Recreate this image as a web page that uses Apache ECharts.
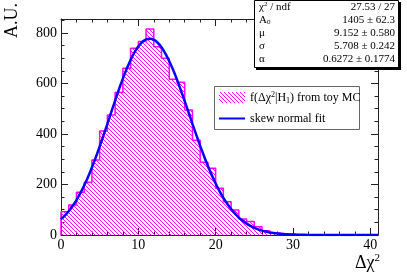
<!DOCTYPE html>
<html><head><meta charset="utf-8">
<script src="https://cdn.jsdelivr.net/npm/echarts@6/dist/echarts.min.js"></script>
<style>html,body{margin:0;padding:0;background:#fff}#c{width:407px;height:276px}</style>
</head><body><div id="c"></div>
<script>
// Histogram: bin width 1, bins starting at 0
const binStart = 0;
const binWidth = 1;
const histValues = [92, 119, 169, 209, 297, 412, 475, 564, 660, 739, 766, 815, 745, 700, 617, 605, 495, 375, 288, 264, 185, 132, 99, 63, 53, 33, 17, 9, 5, 3, 1, 1];
// Fit curve read every 0.5 in x
const fitX = [0,0.5,1,1.5,2,2.5,3,3.5,4,4.5,5,5.5,6,6.5,7,7.5,8,8.5,9,9.5,10,10.5,11,11.5,12,12.5,13,13.5,14,14.5,15,15.5,16,16.5,17,17.5,18,18.5,19,19.5,20,20.5,21,21.5,22,22.5,23,23.5,24,24.5,25,25.5,26,26.5,27,27.5,28,28.5,29,29.5,30,30.5,31,32,33,34,35,36,38,41];
const fitY = [63,77,94,115,138,166,196,230,267,307,350,394,440,486,532,577,619,658,693,723,746,764,774,777,773,761,743,718,688,654,615,573,530,485,440,396,353,312,273,237,204,174,147,124,103,85,69,56,45,36,28.5,22.4,17.4,13.5,10.3,7.8,5.9,4.4,3.3,2.4,1.8,1.3,0.9,0.4,0.2,0.1,0,0,0,0];
const xTicks = [0,10,20,30,40];
const yTicks = [0,200,400,600,800];
const statNames = ['chi2ndf','A0','mu','sigma','alpha'];
const statValues = ['27.53 / 27','1405 \u00b1 62.3','9.152 \u00b1 0.580','5.708 \u00b1 0.242','0.6272 \u00b1 0.1774'];

const MAG = '#ff00ff';
const FONT = '"Liberation Serif", "DejaVu Serif", serif';

function hatch(n){
  const c = document.createElement('canvas');
  c.width = n; c.height = n;
  const ctx = c.getContext('2d');
  ctx.fillStyle = MAG;
  for (let i=0;i<n;i++) ctx.fillRect(i,i,1,1);
  return c;
}
const pattern = {image: hatch(4), repeat: 'repeat'};

const histPts = [[binStart,0]];
histValues.forEach((v,k)=>{
  const a = binStart + k*binWidth, b = a + binWidth;
  histPts.push([a,v]); histPts.push([b,v]);
});
histPts.push([binStart + histValues.length*binWidth, 0]);

const fitPts = fitX.map((x,i)=>[x,fitY[i]]);

const chart = echarts.init(document.getElementById('c'), null, {renderer:'canvas'});

function xAx(pos, labels){
  return {type:'value', position:pos, min:0, max:41, interval:10,
    axisLine:{show:true, onZero:false, lineStyle:{color:'#222', width:1}},
    axisTick:{show:true, inside:true, length:7, lineStyle:{color:'#222'}},
    minorTick:{show:true, splitNumber:5, length:3.5, lineStyle:{color:'#222'}},
    splitLine:{show:false},
    axisLabel:{show:labels, color:'#000', fontFamily:FONT, fontSize:14, margin:3,
      formatter:v=> xTicks.indexOf(v)>=0 ? String(v) : ''}};
}
function yAx(pos, labels){
  return {type:'value', position:pos, min:0, max:855, interval:200,
    axisLine:{show:true, onZero:false, lineStyle:{color:'#222', width:1}},
    axisTick:{show:true, inside:true, length:7, lineStyle:{color:'#222'}},
    minorTick:{show:true, splitNumber:4, length:3.5, lineStyle:{color:'#222'}},
    splitLine:{show:false},
    axisLabel:{show:labels, color:'#000', fontFamily:FONT, fontSize:14, margin:4,
      showMaxLabel:false,
      formatter:v=> yTicks.indexOf(v)>=0 ? String(v) : ''}};
}

function richFor(fs){
  return {
    n:{fontFamily:FONT, fontSize:fs, color:'#000'},
    sup:{fontFamily:FONT, fontSize:Math.round(fs*0.65), color:'#000', verticalAlign:'top', padding:[0,0,6,0]},
    sub:{fontFamily:FONT, fontSize:Math.round(fs*0.65), color:'#000', verticalAlign:'bottom', padding:[5,0,0,0]}
  };
}
const rich = richFor(11);
const richL = richFor(12);
const statLabels = ['{n|\u03c7}{sup|2}{n| / ndf}','{n|A}{sub|0}','{n|\u03bc}','{n|\u03c3}','{n|\u03b1}'];

const graphics = [];
// stats box
graphics.push({type:'rect', shape:{x:256, y:2, width:145, height:68}, style:{fill:'#000'}, z:10});
graphics.push({type:'rect', shape:{x:254.5, y:0.5, width:144, height:67}, style:{fill:'#fff', stroke:'#000', lineWidth:1}, z:11});
statNames.forEach((nm,i)=>{
  const y = 7 + i*13;
  graphics.push({type:'text', x:259, y:y, z:12, style:{text:statLabels[i], rich:rich, fontFamily:FONT, fontSize:11, verticalAlign:'middle', align:'left'}});
  graphics.push({type:'text', x:395, y:y, z:12, style:{text:statValues[i], fontFamily:FONT, fontSize:11, fill:'#000', verticalAlign:'middle', align:'right'}});
});
// legend
graphics.push({type:'rect', shape:{x:214.5, y:86.5, width:145, height:43}, style:{fill:'#fff', stroke:'#666', lineWidth:1}, z:10});
graphics.push({type:'rect', shape:{x:219, y:92, width:26, height:11}, style:{fill:pattern}, z:11});
graphics.push({type:'text', x:250, y:97.5, z:12, style:{text:'{n|f(\u0394\u03c7}{sup|2}{n||H}{sub|1}{n|) from toy MC}', rich:richL, fontFamily:FONT, fontSize:12, verticalAlign:'middle', align:'left'}});
graphics.push({type:'line', shape:{x1:219, y1:118.5, x2:245, y2:118.5}, style:{stroke:'#0000ff', lineWidth:2}, z:11});
graphics.push({type:'text', x:250, y:118.5, z:12, style:{text:'skew normal fit', fontFamily:FONT, fontSize:12, fill:'#000', verticalAlign:'middle', align:'left'}});
// axis titles
graphics.push({type:'text', x:380, y:263, z:12, style:{text:'{t|\u0394\u03c7}{ts|2}', rich:{t:{fontFamily:FONT, fontSize:18, color:'#000'}, ts:{fontFamily:FONT, fontSize:11, color:'#000', verticalAlign:'top', padding:[0,0,9,0]}}, verticalAlign:'middle', align:'right'}});
graphics.push({type:'text', x:12, y:3, rotation:Math.PI/2, z:12, style:{text:'A.U.', fontFamily:FONT, fontSize:18, fill:'#000', verticalAlign:'middle', align:'right'}});

chart.setOption({
  animation:false,
  backgroundColor:'#fff',
  grid:{left:61, right:29, top:19, bottom:41, containLabel:false},
  xAxis:[xAx('bottom', true), xAx('top', false)],
  yAxis:[yAx('left', true), yAx('right', false)],
  series:[
    {type:'line', data:histPts, symbol:'none', xAxisIndex:0, yAxisIndex:0,
     lineStyle:{color:MAG, width:1.5}, areaStyle:{color:pattern, opacity:1}, z:2},
    {type:'line', data:fitPts, symbol:'none', smooth:0.3, xAxisIndex:0, yAxisIndex:0,
     lineStyle:{color:'#0000ff', width:2.5}, z:3}
  ],
  graphic:graphics
});
</script></body></html>
